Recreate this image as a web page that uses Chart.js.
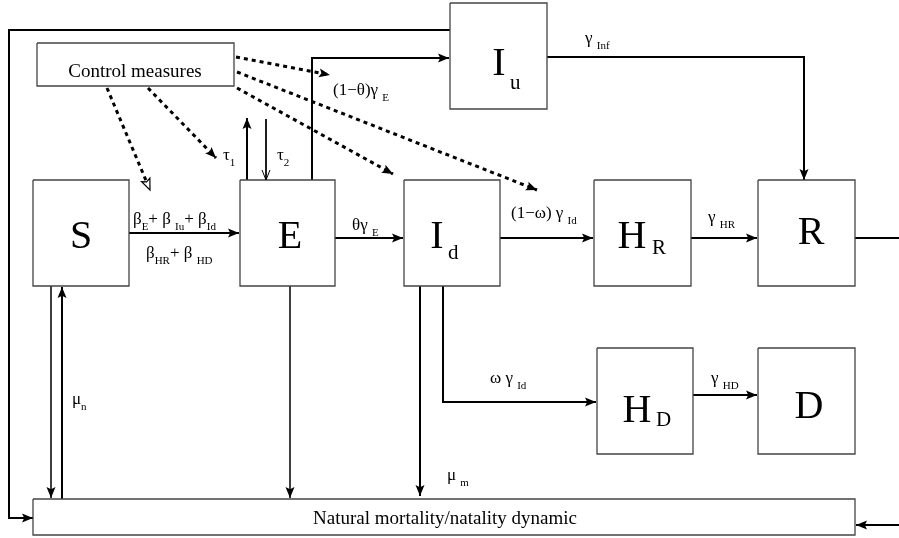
<!DOCTYPE html>
<html>
<head>
<meta charset="utf-8">
<script src="https://cdn.jsdelivr.net/npm/chart.js@4/dist/chart.umd.min.js"></script>
<style>
    html, body { margin: 0; padding: 0; background: #fff; }
    #wrap { width: 899px; height: 538px; }
</style>
</head>
<body>
<div id="wrap"><canvas id="diagram"></canvas></div>
<script>
// Compartments (big letter + subscript)
const compartmentNames = ["S", "E", "I", "I", "H", "R", "H", "D"];
const compartmentSubs = ["", "", "d", "u", "R", "", "D", ""];

// Other boxes
const boxTexts = ["Control measures", "Natural mortality/natality dynamic"];

// Rate labels: [base, sub] pairs
const rateLabels = [
    [["β", ""], ["E", "s"], ["+ β ", ""], ["Iu", "s"], ["+ β", ""], ["Id", "s"]],
    [["β", ""], ["HR", "s"], ["+ β ", ""], ["HD", "s"]],
    [["θγ ", ""], ["E", "s"]],
    [["(1−θ)γ ", ""], ["E", "s"]],
    [["(1−ω) γ ", ""], ["Id", "s"]],
    [["γ ", ""], ["HR", "s"]],
    [["γ ", ""], ["Inf", "s"]],
    [["ω γ ", ""], ["Id", "s"]],
    [["γ ", ""], ["HD", "s"]],
    [["τ", ""], ["1", "s"]],
    [["τ", ""], ["2", "s"]],
    [["μ", ""], ["n", "s"]],
    [["μ ", ""], ["m", "s"]]
];

// ---- layout (diagram units = px of the 899x538 picture) ----
// compartment boxes [x0, y0, x1, y1]
const compBoxes = [
    [33, 180, 129, 286], [240, 180, 335, 286], [404, 180, 500, 286], [450, 3, 547, 109],
    [594, 180, 691, 286], [758, 180, 855, 286], [597, 348, 693, 454], [758, 348, 855, 454]
];
// letter anchor [centerX, baseline, subX, subBaseline]
const compText = [
    [81, 248, 0, 0], [290, 248, 0, 0], [437, 248, 448, 259], [499, 75, 510, 89],
    [632, 248, 652, 254], [811, 244, 0, 0], [637, 422, 656, 426], [809, 418, 0, 0]
];
const otherBoxes = [[37, 43, 234, 86], [33, 499, 855, 535]];
const otherText = [[135, 77], [445, 524]];
// rate label anchors [x, baseline]
const ratePos = [
    [133, 224], [146, 258], [352, 230], [333, 95], [511, 218], [708, 222],
    [585, 43], [490, 383], [711, 383], [223, 160], [277, 160], [72, 404], [447, 480]
];

// solid flows: points + arrow head type
const flows = [
    { pts: [[450, 30], [9, 30], [9, 518], [33, 518]], head: "fill", w: 2 },
    { pts: [[312, 180], [312, 58], [449, 58]], head: "fill", w: 2 },
    { pts: [[547, 57], [804, 57], [804, 180]], head: "fill", w: 2 },
    { pts: [[129, 233], [239, 233]], head: "fill", w: 2 },
    { pts: [[335, 238], [403, 238]], head: "fill", w: 2 },
    { pts: [[500, 238], [593, 238]], head: "fill", w: 2 },
    { pts: [[691, 238], [757, 238]], head: "fill", w: 2 },
    { pts: [[855, 238], [899, 238]], head: null, w: 2 },
    { pts: [[443, 286], [443, 402], [596, 402]], head: "fill", w: 2 },
    { pts: [[693, 395], [757, 395]], head: "fill", w: 2 },
    { pts: [[899, 525], [856, 525]], head: "fill", w: 2 },
    { pts: [[51, 286], [51, 498]], head: "fill", w: 1.5 },
    { pts: [[62, 499], [62, 287]], head: "fill", w: 2 },
    { pts: [[290, 286], [290, 498]], head: "fill", w: 1.5 },
    { pts: [[420, 286], [420, 496]], head: "fill", w: 2 },
    { pts: [[247, 180], [247, 118]], head: "fill", w: 2 },
    { pts: [[266, 119], [266, 180]], head: "open", w: 1 }
];
// dotted control arrows
const controls = [
    { pts: [[107, 88], [150, 190]], head: "hollow" },
    { pts: [[148, 88], [216, 158]], head: "fill" },
    { pts: [[236, 57], [330, 75]], head: "fill" },
    { pts: [[237, 72], [537, 190]], head: "fill" },
    { pts: [[237, 88], [393, 174]], head: "fill" }
];

const toXY = pts => pts.map(p => ({ x: p[0], y: p[1] }));
const rectPts = b => [[b[0], b[1]], [b[2], b[1]], [b[2], b[3]], [b[0], b[3]], [b[0], b[1]]];

const datasets = [];
compBoxes.concat(otherBoxes).forEach(b => {
    datasets.push({ data: toXY(rectPts(b)), borderColor: "#444", borderWidth: 1.3 });
});
flows.forEach(f => {
    datasets.push({ data: toXY(f.pts), borderColor: "#000", borderWidth: f.w, head: f.head });
});
controls.forEach(c => {
    datasets.push({ data: toXY(c.pts), borderColor: "#000", borderWidth: 3, borderDash: [4, 4], head: c.head });
});
datasets.forEach(d => {
    d.showLine = true;
    d.pointRadius = 0;
    d.tension = 0;
    d.fill = false;
    d.borderCapStyle = "butt";
    d.borderJoinStyle = "miter";
});

const FONT = "'Liberation Serif', 'DejaVu Serif', serif";

// draw text with subscripts
function drawRich(ctx, parts, x, y, size, subSize, subDrop) {
    let cx = x;
    parts.forEach(([t, kind]) => {
        if (kind === "s") {
            ctx.font = subSize + "px " + FONT;
            ctx.fillText(t, cx, y + subDrop);
        } else {
            ctx.font = size + "px " + FONT;
            ctx.fillText(t, cx, y);
        }
        cx += ctx.measureText(t).width;
    });
}

const diagramPlugin = {
    id: "diagram",
    afterDatasetsDraw(chart) {
        const ctx = chart.ctx;
        const xs = chart.scales.x, ys = chart.scales.y;
        const px = v => xs.getPixelForValue(v);
        const py = v => ys.getPixelForValue(v);

        // arrow heads
        chart.data.datasets.forEach(d => {
            if (!d.head) return;
            const n = d.data.length;
            const a = d.data[n - 2], b = d.data[n - 1];
            const x1 = px(b.x), y1 = py(b.y);
            const ang = Math.atan2(y1 - py(a.y), x1 - px(a.x));
            const len = d.head === "open" ? 10 : 11, hw = d.head === "open" ? 4 : 4.5;
            ctx.save();
            ctx.translate(x1, y1);
            ctx.rotate(ang);
            ctx.setLineDash([]);
            ctx.beginPath();
            if (d.head === "open") {
                ctx.moveTo(-len, -hw);
                ctx.lineTo(0, 0);
                ctx.lineTo(-len, hw);
                ctx.strokeStyle = "#000";
                ctx.lineWidth = 1;
                ctx.stroke();
            } else {
                ctx.moveTo(0, 0);
                ctx.lineTo(-len, -hw);
                ctx.lineTo(-len * 0.8, 0);
                ctx.lineTo(-len, hw);
                ctx.closePath();
                if (d.head === "hollow") {
                    ctx.fillStyle = "#fff";
                    ctx.fill();
                    ctx.strokeStyle = "#000";
                    ctx.lineWidth = 1.2;
                    ctx.stroke();
                } else {
                    ctx.fillStyle = "#000";
                    ctx.fill();
                }
            }
            ctx.restore();
        });

        ctx.save();
        ctx.fillStyle = "#000";
        ctx.textBaseline = "alphabetic";

        // compartment letters
        compartmentNames.forEach((name, i) => {
            const t = compText[i];
            ctx.font = "40px " + FONT;
            ctx.textAlign = "center";
            ctx.fillText(name, px(t[0]), py(t[1]));
            if (compartmentSubs[i]) {
                ctx.font = "21px " + FONT;
                ctx.textAlign = "left";
                ctx.fillText(compartmentSubs[i], px(t[2]), py(t[3]));
            }
        });

        // box texts
        ctx.textAlign = "center";
        ctx.font = "19px " + FONT;
        boxTexts.forEach((s, i) => {
            ctx.fillText(s, px(otherText[i][0]), py(otherText[i][1]));
        });

        // rate labels
        ctx.textAlign = "left";
        rateLabels.forEach((parts, i) => {
            drawRich(ctx, parts, px(ratePos[i][0]), py(ratePos[i][1]), 17, 11, 6);
        });
        ctx.restore();
    }
};

new Chart(document.getElementById("diagram"), {
    type: "scatter",
    data: { datasets: datasets },
    options: {
        responsive: true,
        maintainAspectRatio: false,
        animation: false,
        layout: { padding: 0 },
        plugins: { legend: { display: false }, tooltip: { enabled: false } },
        scales: {
            x: { type: "linear", min: 0, max: 899, display: false },
            y: { type: "linear", min: 0, max: 538, reverse: true, display: false }
        }
    },
    plugins: [diagramPlugin]
});
</script>
</body>
</html>
